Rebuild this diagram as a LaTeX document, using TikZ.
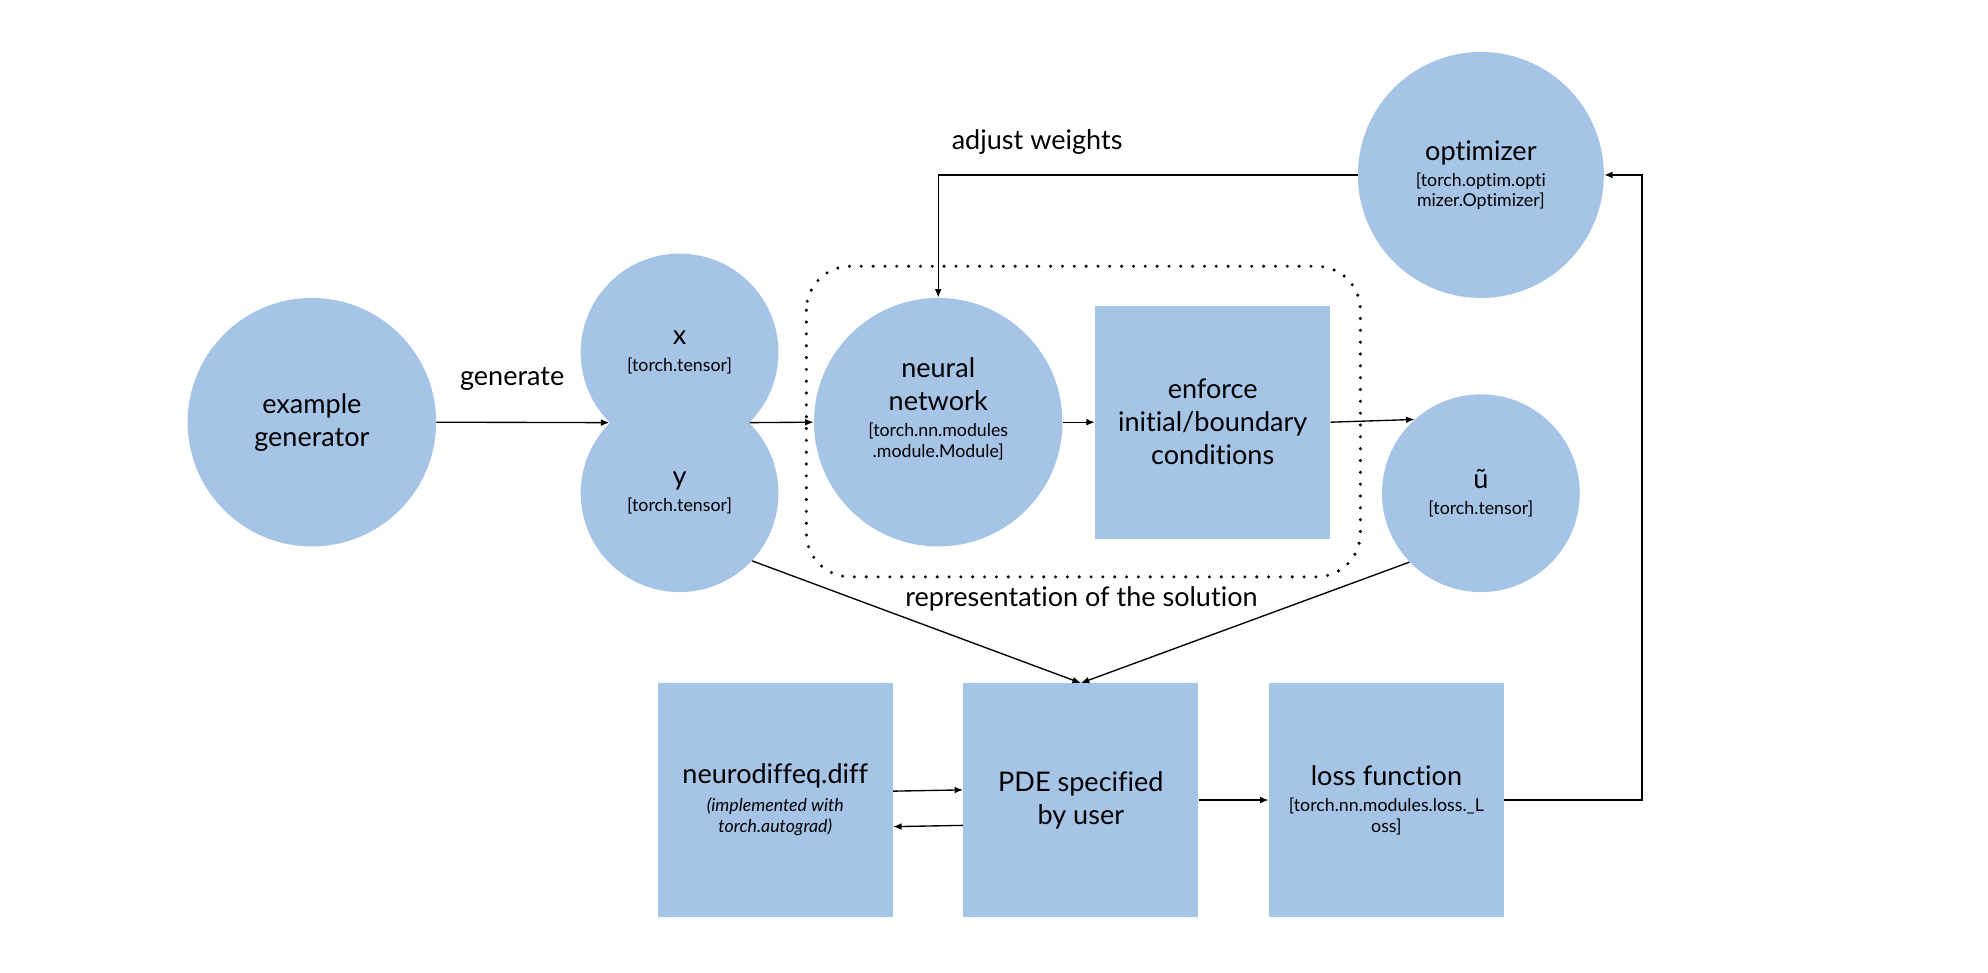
\documentclass[tikz,border=0pt]{standalone}
\usepackage{fontspec}
\setmainfont{Lato}[Ligatures={NoCommon}]
\tikzset{font={\fontsize{16pt}{19.5pt}\selectfont}}
\usetikzlibrary{
	calc,
	arrows.meta,
	shapes,
	positioning
	}
\definecolor{bleu}{HTML}{A6C4E6}
\tikzstyle{noeud-rond}=[fill=bleu,circle,inner sep=0pt,align=center]
\tikzstyle{noeud-carre}=[fill=bleu,rectangle,inner sep=0pt,align=center,minimum width=139pt,minimum height=138pt]
\tikzstyle{fleche}=[-{Latex[length=5pt,width=4pt]},line width=0.8pt]
\tikzstyle{cadre}=[draw,line width=2pt,line cap=round,dash pattern=on 0pt off 7pt,rounded corners=26pt]
\newcommand{\petit}{\fontsize{10.5pt}{12.5pt}\selectfont}

\begin{document}
\begin{tikzpicture}[x=0.75pt,y=-0.75pt]
            \useasboundingbox (0,0) rectangle (1568,767);
            %
            \draw[cadre] (636,210) rectangle (1073,455);

            \node[noeud-rond, minimum size=147pt] (n-gen) at (246,333) {example\\generator};
            \node[noeud-rond, minimum size=117pt] (n-x) at (536,278) {x\\[-4pt]{\petit[torch.tensor]}};
            \node[noeud-rond, minimum size=117pt] (n-y) at (536,389) {y\\[-4pt]{\petit[torch.tensor]}};
            \node[noeud-rond, minimum size=147pt] (n-nn) at (740,333) {neural\\network\\[-4pt]{\petit[torch.nn.modules}\\[-7.5pt]{\petit.module.Module]}\\[-2pt]};
            \node[noeud-carre] (n-enf) at (956.5,333) {enforce\\initial/boundary\\conditions};
            \node[noeud-rond, minimum size=117pt] (n-u) at (1168,389) {ũ\\[-4pt]{\petit[torch.tensor]}};
            \node[noeud-rond, minimum size=145.5pt] (n-opt) at (1168,138) {optimizer\\[-4pt]{\petit[torch.optim.opti}\\[-7.5pt]{\petit mizer.Optimizer]}};

            \node[noeud-carre] (n-diff) at (611.5,631) {neurodiffeq.diff\\[-3pt]{\petit\itshape(implemented with}\\[-7pt]{\petit\itshape torch.autograd)}};
            \node[noeud-carre] (n-pde) at (852.5,631) {PDE specified\\by user};
            \node[noeud-carre] (n-loss) at (1093.5,631) {loss function\\[-4pt]{\petit[torch.nn.modules.loss.\_L}\\[-7pt]{\petit oss]}};
            %
            \node (l-gen) at (404,299) {generate};
            \node (l-adj) at (818,112) {adjust weights};
            \node (l-rep) at (853,472) {representation of the solution};

            \coordinate (c-boucle) at (1295,138);

            \draw[fleche] (n-gen.east) -- (n-x.south west);
            \draw[fleche] (n-x.south east) -- (n-nn.west);
            \draw[fleche] (n-nn.east) -- (n-enf.west);
            \draw[fleche] (n-enf.east) -- (n-u.132);
            \draw[fleche] (n-opt.west) -| (n-nn.north);
            \draw[fleche] (n-y.-43) -- (n-pde.north);
            \draw[fleche] (n-u.-136) -- (n-pde.north);
            \draw[fleche] ($(n-diff.east)+(0,-7)$) -- ($(n-pde.west)+(0,-8)$);
            \draw[fleche] ($(n-pde.west)+(0,20)$) -- ($(n-diff.east)+(0,21)$);
            \draw[fleche] (n-pde.east) -- (n-loss.west);
            \draw[fleche] (n-loss.east) -| (c-boucle) -- (n-opt.east);
        \end{tikzpicture}
\end{document}
